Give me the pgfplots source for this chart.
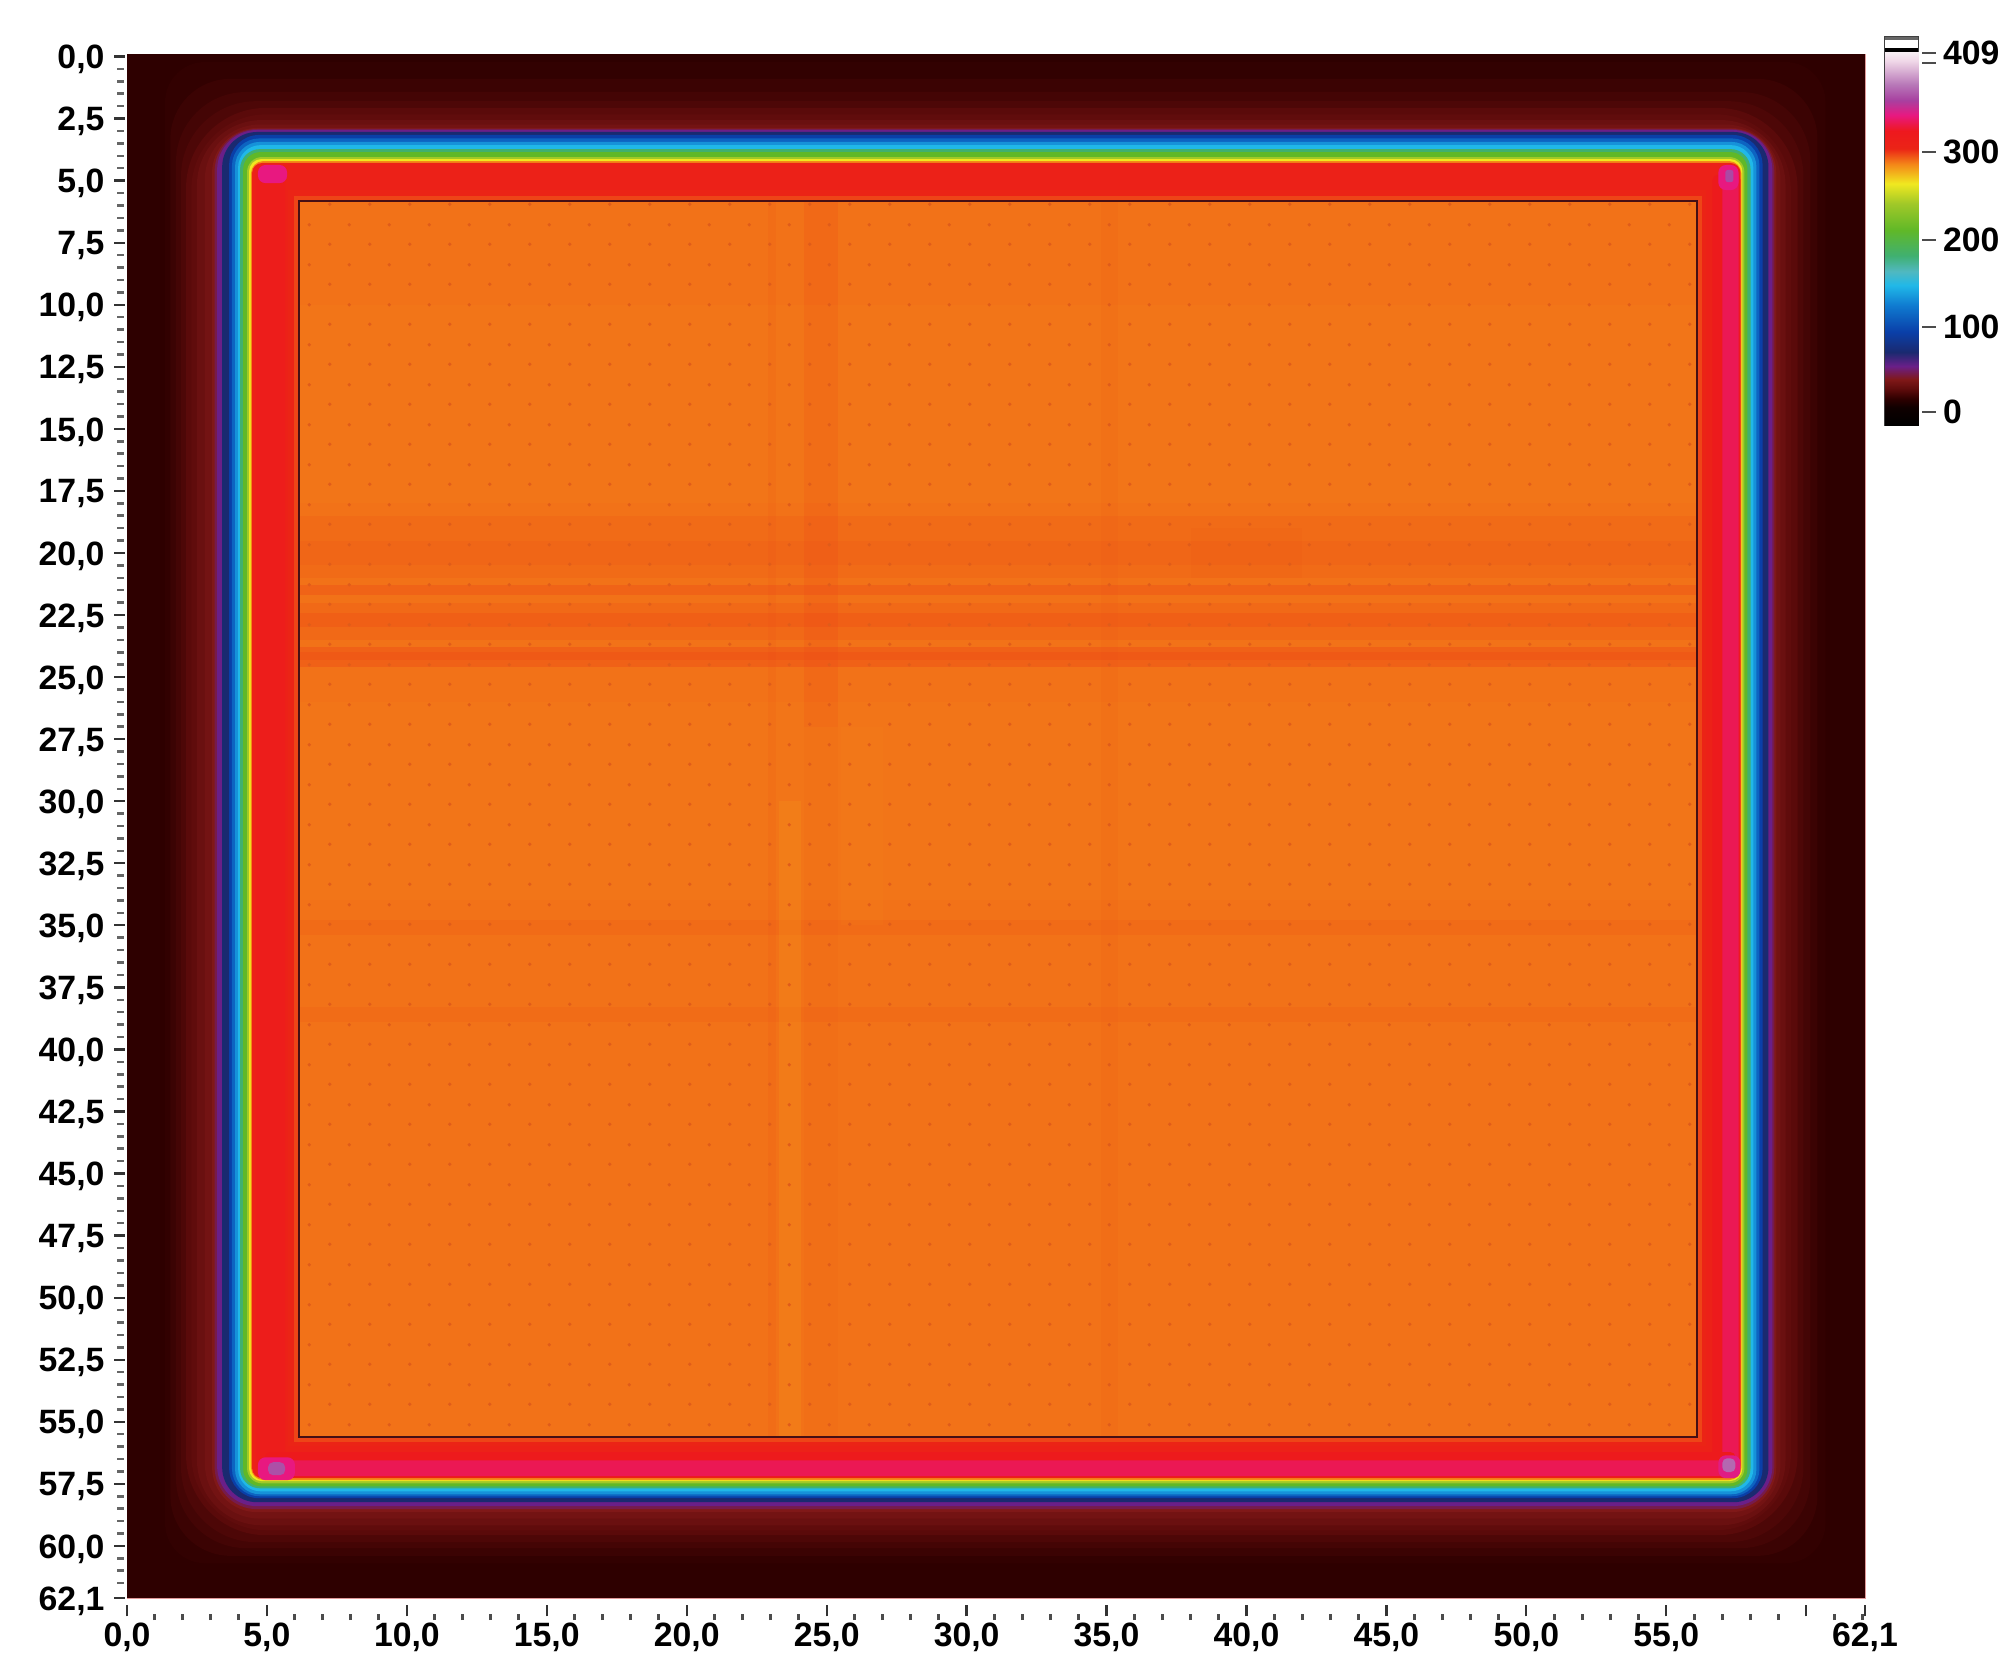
\documentclass[border=0pt]{standalone}
\usepackage{fontspec}
\setmainfont{Liberation Sans}
\usepackage{pgfplots}
\pgfplotsset{compat=1.18}
\usetikzlibrary{patterns}

% positions are temperature + 15
\pgfplotsset{colormap={thermal}{
  rgb255(0pt)=(0,0,0) rgb255(20pt)=(15,0,0) rgb255(30pt)=(46,0,0) rgb255(40pt)=(90,10,10)
  rgb255(52pt)=(128,24,24) rgb255(67pt)=(106,31,136) rgb255(83pt)=(26,42,112)
  rgb255(106pt)=(10,63,168) rgb255(136pt)=(15,122,208) rgb255(159pt)=(32,184,232)
  rgb255(175pt)=(80,184,192) rgb255(193pt)=(64,176,112) rgb255(222pt)=(96,184,40)
  rgb255(252pt)=(160,200,40) rgb255(275pt)=(240,232,32) rgb255(297pt)=(244,136,24)
  rgb255(315pt)=(235,36,22) rgb255(335pt)=(238,24,30) rgb255(353pt)=(232,24,128)
  rgb255(370pt)=(168,64,160) rgb255(388pt)=(184,120,184) rgb255(415pt)=(240,216,232)
  rgb255(425pt)=(248,240,244)
}}

\pgfdeclarepatternformonly{ir dots}{\pgfqpoint{0pt}{0pt}}{\pgfqpoint{16pt}{16pt}}{\pgfqpoint{16pt}{16pt}}{
  \pgfpathcircle{\pgfqpoint{4pt}{4pt}}{0.75pt}
  \pgfpathcircle{\pgfqpoint{12pt}{12pt}}{0.75pt}
  \pgfusepath{fill}
}

\pgfplotsset{temp/.style={/utils/exec={\pgfmathsetmacro\tv{(#1+15)/425*1000}},
  color of colormap/.expanded={\tv\space of thermal}, fill=., draw=none, forget plot}}

% x0 x1 y0 y1 temperature corner radius
\newcommand{\band}[6]{\addplot[temp=#5, rounded corners=#6pt]
  coordinates {(#1,#3) (#2,#3) (#2,#4) (#1,#4)} --cycle;}
% same, with opacity
\newcommand{\stripe}[6]{\addplot[temp=#5, fill opacity=#6]
  coordinates {(#1,#3) (#2,#3) (#2,#4) (#1,#4)} --cycle;}

\newcommand{\lab}{\fontsize{13.5}{13.5}\selectfont\bfseries}

\begin{document}
\begin{tikzpicture}
\path[use as bounding box] (0,0) rectangle (800pt,-661.2pt);

\begin{axis}[
  at={(50.8pt,-21.6pt)}, anchor=north west, scale only axis,
  width=695.2pt, height=617.6pt,
  xmin=0, xmax=62.1, ymin=-0.1, ymax=62.1, y dir=reverse,
  axis line style={draw=black!30!red!40, line width=.3pt},
  tick align=outside, xtick pos=bottom, ytick pos=left,
  xtick={0,5,10,15,20,25,30,35,40,45,50,55,60,62.1},
  xticklabels={{0,0},{5,0},{10,0},{15,0},{20,0},{25,0},{30,0},{35,0},{40,0},{45,0},{50,0},{55,0},{},{62,1}},
  minor xtick={1,2,3,4,6,7,8,9,11,12,13,14,16,17,18,19,21,22,23,24,26,27,28,29,31,32,33,34,36,37,38,39,41,42,43,44,46,47,48,49,51,52,53,54,56,57,58,59,61,62},
  ytick={0,2.5,5,7.5,10,12.5,15,17.5,20,22.5,25,27.5,30,32.5,35,37.5,40,42.5,45,47.5,50,52.5,55,57.5,60,62.1},
  yticklabels={{0,0},{2,5},{5,0},{7,5},{10,0},{12,5},{15,0},{17,5},{20,0},{22,5},{25,0},{27,5},{30,0},{32,5},{35,0},{37,5},{40,0},{42,5},{45,0},{47,5},{50,0},{52,5},{55,0},{57,5},{60,0},{62,1}},
  minor ytick={0.5,1,1.5,2,3,3.5,4,4.5,5.5,6,6.5,7,8,8.5,9,9.5,10.5,11,11.5,12,13,13.5,14,14.5,15.5,16,16.5,17,18,18.5,19,19.5,20.5,21,21.5,22,23,23.5,24,24.5,25.5,26,26.5,27,28,28.5,29,29.5,30.5,31,31.5,32,33,33.5,34,34.5,35.5,36,36.5,37,38,38.5,39,39.5,40.5,41,41.5,42,43,43.5,44,44.5,45.5,46,46.5,47,48,48.5,49,49.5,50.5,51,51.5,52,53,53.5,54,54.5,55.5,56,56.5,57,58,58.5,59,59.5,60.5,61,61.5},
  major tick length=4.5pt, minor tick length=2.6pt,
  x tick style={yshift=-2.8pt, black!80, line width=.9pt},
  y tick style={xshift=-.6pt, black!80, line width=.9pt},
  minor x tick style={yshift=-3.4pt, line width=1.2pt, black!70},
  minor y tick style={xshift=-.6pt, line width=1pt, black!60},
  tick label style={font=\lab, black},
  xticklabel style={yshift=-2pt},
  yticklabel style={xshift=-1pt, yshift=-1.2pt},
  clip=true,
]
% background and nested contours, outer to inner
\band{0}{62.1}{-0.1}{62.1}{15}{0}
\band{1.36}{60.69}{0.22}{60.70}{16}{16}
\band{1.55}{60.40}{0.90}{60.40}{18}{24}
\band{1.75}{60.15}{1.43}{60.09}{20}{28}
\band{1.93}{59.90}{1.80}{59.85}{22}{30}
\band{2.11}{59.69}{2.07}{59.57}{25}{32}
\band{2.30}{59.45}{2.33}{59.37}{27}{30}
\band{2.50}{59.26}{2.56}{59.17}{30}{26}
\band{2.78}{59.08}{2.74}{58.90}{33}{22}
\band{3.04}{58.93}{2.88}{58.64}{37}{18}
\band{3.13}{58.86}{2.92}{58.52}{44}{17}
\band{3.22}{58.79}{2.96}{58.40}{52}{16}
\band{3.40}{58.65}{3.04}{58.24}{68}{14}
\band{3.65}{58.44}{3.16}{58.08}{91}{12}
\band{3.75}{58.33}{3.30}{58.00}{110}{11}
\band{3.86}{58.22}{3.44}{57.92}{130}{10}
\band{3.97}{58.11}{3.57}{57.80}{144}{9}
\band{4.04}{58.01}{3.73}{57.68}{178}{8}
\band{4.15}{57.90}{3.85}{57.60}{207}{7}
\band{4.29}{57.79}{4.05}{57.48}{237}{6}
\band{4.36}{57.72}{4.13}{57.39}{260}{5}
\band{4.43}{57.68}{4.21}{57.35}{282}{5}
\band{4.47}{57.65}{4.29}{57.27}{305}{4}
% crimson sides
\band{4.61}{5.65}{4.6}{57.0}{312}{2}
\band{56.65}{57.65}{4.77}{56.95}{316}{2}
\band{57.00}{57.58}{4.6}{57.1}{330}{2}
\band{4.93}{57.47}{56.22}{57.23}{316}{2}
\band{4.9}{57.4}{56.55}{57.19}{330}{2}
% hot corners
\band{4.68}{5.72}{4.37}{5.10}{338}{3}
\band{56.86}{57.58}{4.37}{5.38}{338}{3}
\band{57.11}{57.40}{4.57}{5.06}{358}{1}
\band{4.68}{6.00}{56.43}{57.35}{338}{3}
\band{5.04}{5.65}{56.63}{57.15}{360}{2}
\band{56.86}{57.65}{56.35}{57.27}{340}{3}
\band{57.00}{57.47}{56.47}{57.03}{368}{2}
% step down to the measured square
\band{5.75}{56.43}{5.38}{55.98}{300}{0}
\band{5.97}{56.29}{5.62}{55.82}{294}{0}
\band{6.15}{56.11}{5.82}{55.62}{286}{0}
% stripes in the square
\stripe{6.15}{56.11}{18.5}{21.0}{292}{0.18}
\stripe{6.15}{56.11}{19.5}{20.5}{294}{0.12}
\stripe{6.15}{56.11}{21.3}{21.7}{296}{0.25}
\stripe{6.15}{56.11}{22.0}{23.5}{294}{0.2}
\stripe{6.15}{56.11}{22.4}{23.0}{296}{0.2}
\stripe{6.15}{56.11}{23.8}{24.6}{296}{0.3}
\stripe{6.15}{56.11}{24.0}{24.3}{296}{0.2}
\stripe{6.15}{56.11}{34.8}{35.4}{294}{0.15}
\stripe{6.15}{56.11}{38.3}{38.9}{294}{0.12}
\stripe{24.2}{25.4}{5.82}{27}{294}{0.2}
\stripe{24.2}{25.4}{27}{55.62}{292}{0.08}
\stripe{22.9}{23.2}{5.82}{55.62}{294}{0.1}
\stripe{34.8}{35.4}{5.82}{55.62}{294}{0.07}
\stripe{38}{42}{19}{21}{296}{0.06}
\stripe{23.3}{24.1}{30}{55.62}{280}{0.3}
\stripe{25.5}{27}{27}{35}{280}{0.1}
\stripe{6.15}{56.11}{10}{18}{280}{0.1}
\stripe{6.15}{56.11}{26}{34}{280}{0.1}
\addplot[draw=none, pattern=ir dots, pattern color={rgb,255:red,224;green,92;blue,26}, forget plot]
  coordinates {(6.15,5.82) (56.11,5.82) (56.11,55.62) (6.15,55.62)} --cycle;
% outline of the measured square
\addplot[draw={rgb,255:red,70;green,15;blue,20}, line width=.9pt, forget plot]
  coordinates {(6.15,5.82) (56.11,5.82) (56.11,55.62) (6.15,55.62)} --cycle;
\end{axis}

% colour scale, ticks where the scale has them
\begin{axis}[
  at={(754pt,-14.8pt)}, anchor=north west, scale only axis,
  width=13.2pt, height=155.2pt,
  xmin=0, xmax=1, ymin=-15, ymax=427,
  xtick=\empty,
  ytick={0,97,196,296,409}, yticklabels={0,100,200,300,409},
  extra y ticks={397}, extra y tick labels={},
  tick align=outside, ytick pos=right, yticklabel pos=right,
  major tick length=5.5pt,
  y tick style={xshift=1.6pt, black!70, line width=.9pt},
  tick label style={font=\lab, black},
  yticklabel style={xshift=1pt},
  axis line style={draw=black!75, line width=.6pt},
  point meta min=-15, point meta max=410,
  colormap name=thermal,
]
\addplot[surf, shader=interp, mesh/cols=2, point meta=y, forget plot] table {
x y
0 -15
1 -15
0 410
1 410
};
\addplot[fill=black, draw=none, forget plot] coordinates {(0,410) (1,410) (1,415) (0,415)} --cycle;
\addplot[fill=white, draw=none, forget plot] coordinates {(0,415) (1,415) (1,424) (0,424)} --cycle;
\addplot[fill=black!60, draw=none, forget plot] coordinates {(0,424) (1,424) (1,427) (0,427)} --cycle;
\end{axis}
\end{tikzpicture}
\end{document}
